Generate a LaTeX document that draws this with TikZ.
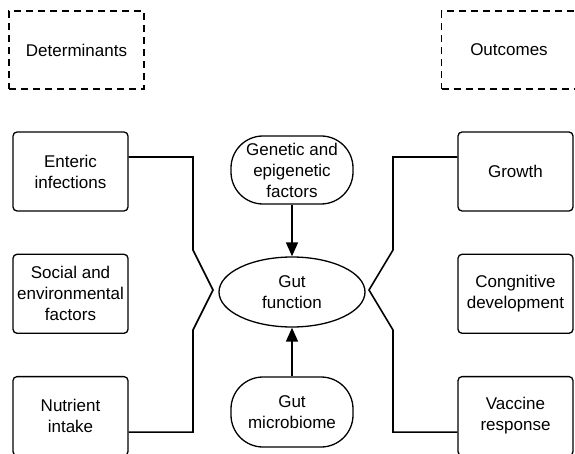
\documentclass[tikz,border=0pt]{standalone}
\usepackage{fontspec}
\setmainfont{Liberation Sans}
\usetikzlibrary{positioning,arrows.meta,shapes.geometric}

\begin{document}
\begin{tikzpicture}[
  x=1pt, y=-1pt,
  font=\fontsize{17}{21}\selectfont, >={Triangle[length=14pt,width=12pt]},
  node distance=42pt,
  hbox/.style={draw, dash pattern=on 7pt off 5pt, line width=1.5pt,
               minimum width=135pt, minimum height=78pt, align=center},
  fbox/.style={draw, rounded corners=4pt, line width=1.3pt, inner sep=2pt,
               minimum width=115pt, minimum height=79pt, align=center},
  sbox/.style={draw, rounded corners=32pt, line width=1.3pt, inner sep=2pt,
               minimum width=122pt, minimum height=68pt, align=center},
  ovl/.style={draw, ellipse, line width=1.3pt, inner sep=0pt,
              minimum width=146pt, minimum height=70pt, align=center},
  arr/.style={->, line width=1.6pt},
  link/.style={line width=1.6pt},
]
\useasboundingbox (0,0) rectangle (575,454);

\node[hbox] (det) at (76.5,50) {Determinants};
\node[hbox] (out) at (509,50) {Outcomes};

\node[fbox] (ent) at (70.5,171.5) {Enteric\\infections};
\node[fbox, below=of ent] (soc) {Social and\\environmental\\factors};
\node[fbox, below=of soc] (nut) {Nutrient\\intake};

\node[fbox] (gro) at (515.5,171.5) {Growth};
\node[fbox, below=of gro] (cog) {Congnitive\\development};
\node[fbox, below=of cog] (vac) {Vaccine\\response};

\node[sbox] (gen) at (292,170) {Genetic and\\epigenetic\\factors};
\node[ovl] (gut) at (292,292) {Gut\\function};
\node[sbox, minimum height=70pt] (mic) at (292,412) {Gut\\microbiome};

\draw[arr] (gen) -- (gut);
\draw[arr] (mic) -- (gut);

% brackets
\coordinate (lapex) at (213,290);
\coordinate (rapex) at (369,290);
\draw[link] ([yshift=14.5pt]ent.east) -| (193,250) -- (lapex) -- (193,330)
  |- ([yshift=-16pt]nut.east);
\draw[link] ([yshift=14.5pt]gro.west) -| (393,250) -- (rapex) -- (393,330)
  |- ([yshift=-16pt]vac.west);
\end{tikzpicture}
\end{document}
